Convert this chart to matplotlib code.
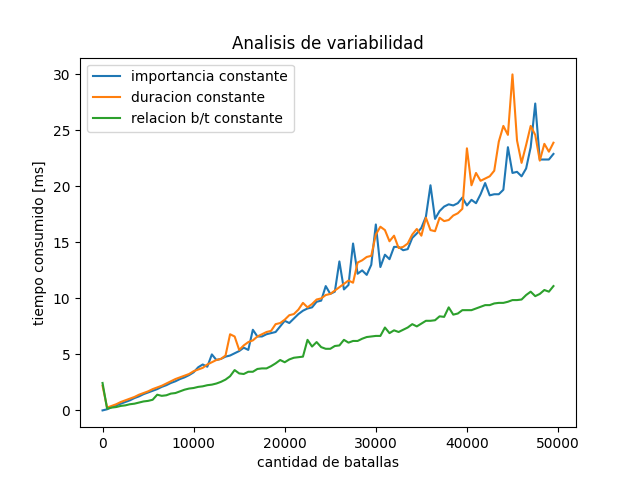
import numpy as np
import matplotlib
matplotlib.use("Agg")
import matplotlib.pyplot as plt

# cantidad de batallas, cada 500
batallas = list(range(0, 50000, 500))

importancia = [0.0,
	0.1, 0.3, 0.45, 0.6, 0.75, 0.9, 1.1, 1.25, 1.45, 1.6,
	1.75, 1.9, 2.1, 2.25, 2.45, 2.6, 2.8, 2.95, 3.15, 3.4, 3.85,
	4.1, 3.9, 5.0, 4.5, 4.6, 4.8, 4.9, 5.1, 5.3, 5.6,
	5.4, 7.2, 6.6, 6.6, 6.8, 6.9, 7.0, 7.5, 8.0, 7.8,
	8.2, 8.6, 8.9, 9.1, 9.2, 9.7, 9.8, 11.1, 10.4, 10.6,
	13.3, 10.8, 11.2, 14.9, 12.2, 12.5, 12.1, 13.0, 16.6, 12.8,
	13.9, 13.5, 14.6, 14.6, 14.3, 14.4, 15.4, 15.8, 16.3, 17.3,
	20.1, 17.1, 17.8, 18.2, 18.4, 18.3, 18.5, 19.0, 18.3, 18.8,
	18.5, 19.3, 20.3, 19.2, 19.3, 19.3, 19.7, 23.5, 21.2, 21.3,
	20.9, 21.6, 23.5, 27.4, 22.4, 22.4, 22.4, 22.9]

duracion = [2.2,
	0.25, 0.4, 0.55, 0.75, 0.9, 1.05, 1.2, 1.4, 1.55, 1.7,
	1.9, 2.05, 2.2, 2.4, 2.6, 2.8, 2.95, 3.1, 3.25, 3.5, 3.65,
	3.8, 4.1, 4.3, 4.5, 4.6, 4.9, 6.8, 6.6, 5.4, 5.8,
	6.1, 6.25, 6.6, 6.8, 7.0, 7.1, 7.7, 7.8, 8.1, 8.5,
	8.6, 9.0, 9.6, 9.2, 9.5, 9.9, 10.0, 10.3, 10.4, 10.7,
	11.0, 11.3, 11.6, 11.4, 13.2, 13.4, 13.7, 13.8, 15.7, 16.4,
	16.1, 15.1, 15.6, 14.5, 14.6, 14.9, 15.7, 16.2, 15.6, 17.2,
	16.1, 16.0, 17.2, 16.9, 17.0, 17.4, 17.6, 18.0, 23.4, 20.1,
	21.2, 20.5, 20.7, 20.9, 21.4, 24.0, 25.4, 24.6, 30.0, 24.1,
	22.1, 23.7, 25.4, 24.6, 22.3, 23.8, 23.1, 23.9]

relacion = [2.45,
	0.15, 0.25, 0.3, 0.4, 0.45, 0.55, 0.6, 0.7, 0.8, 0.85,
	0.95, 1.4, 1.3, 1.35, 1.5, 1.55, 1.7, 1.85, 1.95, 2.0, 2.1,
	2.15, 2.25, 2.3, 2.4, 2.55, 2.75, 3.05, 3.6, 3.3, 3.25,
	3.45, 3.45, 3.7, 3.75, 3.75, 3.95, 4.2, 4.5, 4.3, 4.55,
	4.7, 4.75, 4.8, 6.3, 5.7, 6.1, 5.65, 5.5, 5.5, 5.75,
	5.8, 6.3, 6.05, 6.2, 6.2, 6.4, 6.55, 6.6, 6.65, 6.65,
	7.4, 6.9, 7.15, 7.0, 7.2, 7.4, 7.7, 7.5, 7.75, 8.0,
	8.0, 8.05, 8.4, 8.35, 9.2, 8.55, 8.65, 8.95, 8.95, 8.95,
	9.1, 9.25, 9.4, 9.4, 9.55, 9.6, 9.6, 9.7, 9.85, 9.85,
	9.9, 10.3, 10.6, 10.2, 10.4, 10.75, 10.6, 11.1]

plt.figure(figsize=(6.4, 4.8), dpi=100)
plt.plot(batallas, importancia, label="importancia constante")
plt.plot(batallas, duracion, label="duracion constante")
plt.plot(batallas, relacion, label="relacion b/t constante")
plt.xlabel("cantidad de batallas")
plt.ylabel("tiempo consumido [ms]")
plt.title("Analisis de variabilidad")
plt.legend(loc="upper left")
plt.savefig("out.png")
